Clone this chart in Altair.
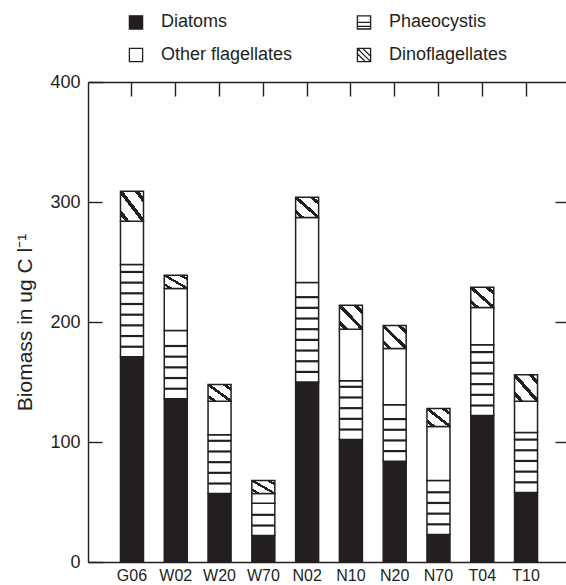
import altair as alt
import pandas as pd

# ---- data ----
sites = ["G06", "W02", "W20", "W70", "N02", "N10", "N20", "N70", "T04", "T10"]
diatoms = [171, 136, 57, 22, 150, 102, 84, 23, 122, 58]
phaeocystis = [77, 57, 49, 27, 83, 49, 47, 45, 59, 50]
other_flagellates = [36, 35, 28, 8, 54, 43, 47, 45, 31, 26]
dinoflagellates = [25, 11, 14, 11, 17, 20, 19, 15, 17, 22]

categories = ["Diatoms", "Phaeocystis", "Other flagellates", "Dinoflagellates"]
y_ticks = [0, 100, 200, 300, 400]
y_title = "Biomass in ug C l\u207b\u00b9"

series = {
    "Diatoms": diatoms,
    "Phaeocystis": phaeocystis,
    "Other flagellates": other_flagellates,
    "Dinoflagellates": dinoflagellates,
}

rows = []
for ci, cat in enumerate(categories):
    for s, v in zip(sites, series[cat]):
        rows.append({"site": s, "category": cat, "value": v, "order": ci})
df = pd.DataFrame(rows)

# horizontal-stripe pattern lines for the Phaeocystis segments (pattern decoration)
STRIPE_STEP = 8.9
stripe_rows = []
for s, d, p in zip(sites, diatoms, phaeocystis):
    k = 1
    while True:
        yv = d + STRIPE_STEP * k - 0.5
        if yv > d + p - 5:
            break
        stripe_rows.append({"site": s, "y": yv})
        k += 1
stripe_df = pd.DataFrame(stripe_rows)

# ---- styling ----
INK = "#231f20"
FONT = "Liberation Sans"
W, H = 478, 480

xscale = alt.Scale(domain=sites, paddingInner=0.4746, paddingOuter=0.696, align=0.533)
yscale = alt.Scale(domain=[0, 400], nice=False)

hatch = alt.LinearGradient(
    gradient="linear",
    x1=0, y1=1, x2=1, y2=0,
    stops=[
        alt.GradientStop(color="white", offset=0.0),
        alt.GradientStop(color="white", offset=0.10),
        alt.GradientStop(color=INK, offset=0.10),
        alt.GradientStop(color=INK, offset=0.20),
        alt.GradientStop(color="white", offset=0.20),
        alt.GradientStop(color="white", offset=0.45),
        alt.GradientStop(color=INK, offset=0.45),
        alt.GradientStop(color=INK, offset=0.55),
        alt.GradientStop(color="white", offset=0.55),
        alt.GradientStop(color="white", offset=0.80),
        alt.GradientStop(color=INK, offset=0.80),
        alt.GradientStop(color=INK, offset=0.90),
        alt.GradientStop(color="white", offset=0.90),
        alt.GradientStop(color="white", offset=1.0),
    ],
)

x_bottom_axis = alt.Axis(
    orient="bottom", title=None, ticks=False, tickSize=0, domain=True,
    domainColor=INK, domainWidth=1.4, labelFont=FONT, labelFontSize=16,
    labelColor=INK, labelPadding=5, labelAngle=0,
)
y_left_axis = alt.Axis(
    orient="left", values=y_ticks, ticks=False, tickSize=0, domain=True,
    domainColor=INK, domainWidth=1.4, grid=False, labelFont=FONT,
    labelFontSize=18, labelColor=INK, labelPadding=8,
    title=y_title, titleFont=FONT, titleFontSize=21, titleFontWeight="normal",
    titleColor=INK, titleAngle=270, titleX=-57, titleY=H / 2,
    titleAlign="center", titleBaseline="alphabetic",
)
x_top_axis = alt.Axis(
    orient="bottom", offset=-H, title=None, labels=False, ticks=True,
    tickSize=14, tickColor=INK, tickWidth=1.4, domain=True,
    domainColor=INK, domainWidth=1.4,
)
y_inner_left_ticks = alt.Axis(
    orient="right", offset=-W, values=y_ticks, title=None, labels=False,
    ticks=True, tickSize=14, tickColor=INK, tickWidth=1.4, domain=False, grid=False,
)
y_inner_right_ticks = alt.Axis(
    orient="left", offset=-W, values=[100, 200, 300], title=None, labels=False,
    ticks=True, tickSize=11, tickColor=INK, tickWidth=1.4, domain=False, grid=False,
)

base = alt.Chart(df).transform_stack(
    stack="value", groupby=["site"], sort=[alt.SortField("order")], as_=["y0", "y1"]
)


def bars(cat, fill, xaxis=None, yaxis=None):
    return (
        base.transform_filter(alt.datum.category == cat)
        .mark_bar(fill=fill, stroke=INK, strokeWidth=1.5)
        .encode(
            x=alt.X("site:N", scale=xscale, axis=xaxis),
            y=alt.Y("y1:Q", scale=yscale, axis=yaxis),
            y2="y0:Q",
        )
    )


diat_layer = bars("Diatoms", INK, x_bottom_axis, y_left_axis)
phaeo_layer = bars("Phaeocystis", "white")
other_layer = bars("Other flagellates", "white")
dino_layer = bars("Dinoflagellates", hatch)

stripes = alt.Chart(stripe_df).mark_tick(size=23, thickness=2.2, color=INK, opacity=1).encode(
    x=alt.X("site:N", scale=xscale, axis=x_top_axis),
    y=alt.Y("y:Q", scale=yscale, axis=y_inner_left_ticks),
)

# legend grid is filled column by column: col 1 = Diatoms, Other; col 2 = Phaeocystis, Dino
legend_order = ["Diatoms", "Other flagellates", "Phaeocystis", "Dinoflagellates"]
square = "M-1,-1H1V1H-1Z"
phaeo_icon = "M-1,-1H1V1H-1Z M-1,0H1 M-1,0.6H1"
dino_icon = "M-1,-1H1V1H-1Z M-1,-0.2L0.2,1 M-1,-1L1,1 M-0.2,-1L1,0.2 M-1,-0.6L-0.6,-1"

leg = alt.Legend(
    orient="none", legendX=39, legendY=-69, columns=2, title=None,
    labelFont=FONT, labelFontSize=18, labelColor=INK, symbolSize=175,
    symbolStrokeColor=INK, symbolStrokeWidth=1.3, symbolOpacity=1,
    labelOffset=16, columnPadding=61, rowPadding=13,
)

legend_layer = alt.Chart(df).mark_point(filled=True, opacity=0).encode(
    x=alt.X("site:N", scale=xscale, axis=None),
    y=alt.Y("value:Q", scale=yscale, axis=y_inner_right_ticks),
    fill=alt.Fill(
        "category:N",
        scale=alt.Scale(domain=legend_order, range=[INK, "white", "white", "white"]),
        legend=leg,
    ),
    stroke=alt.Stroke(
        "category:N",
        scale=alt.Scale(domain=legend_order, range=[INK, INK, INK, INK]),
        legend=leg,
    ),
    shape=alt.Shape(
        "category:N",
        scale=alt.Scale(domain=legend_order, range=[square, square, phaeo_icon, dino_icon]),
        legend=leg,
    ),
    strokeWidth=alt.value(1.3),
)

chart = (
    alt.layer(diat_layer, phaeo_layer, other_layer, dino_layer, stripes, legend_layer)
    .resolve_axis(x="independent", y="independent")
    .properties(
        width=W, height=H,
        padding={"left": 88, "top": 82, "right": 0, "bottom": 22},
        autosize=alt.AutoSizeParams(type="none"),
        background="white",
    )
    .configure_view(strokeWidth=0)
)

chart.save("out.html", embed_options={"renderer": "svg", "actions": False})
